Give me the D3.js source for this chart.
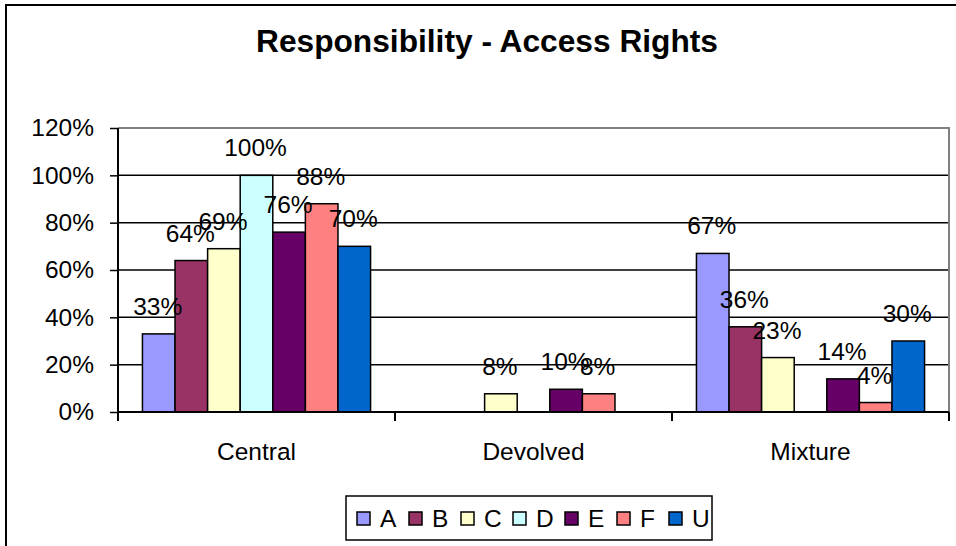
<!DOCTYPE html>
<html>
<head>
<meta charset="utf-8">
<script src="https://cdn.jsdelivr.net/npm/d3@7"></script>
<style>
  html, body { margin: 0; padding: 0; background: #fff; }
  svg { display: block; font-family: "Liberation Sans", Arial, sans-serif; }
</style>
</head>
<body>
<svg id="chart" width="956" height="546"></svg>
<script>
const categories = ["Central", "Devolved", "Mixture"];
const seriesNames = ["A", "B", "C", "D", "E", "F", "U"];
const seriesColors = ["#9999FF", "#993366", "#FFFFCC", "#CCFFFF", "#660066", "#FF8080", "#0066CC"];
const valuesA = [0.33, 0, 0.67];
const valuesB = [0.64, 0, 0.36];
const valuesC = [0.69, 0.077, 0.23];
const valuesD = [1.00, 0, 0];
const valuesE = [0.76, 0.096, 0.14];
const valuesF = [0.88, 0.077, 0.04];
const valuesU = [0.70, 0, 0.30];
const yTicks = [0, 0.2, 0.4, 0.6, 0.8, 1.0, 1.2];
const title = "Responsibility - Access Rights";

const seriesValues = [valuesA, valuesB, valuesC, valuesD, valuesE, valuesF, valuesU];

const svg = d3.select("#chart");
const pLeft = 118, pRight = 949, pTop = 128, pBottom = 412;

// outer chart border
svg.append("rect").attr("x", 6).attr("y", 5).attr("width", 975).attr("height", 570)
  .attr("fill", "#fff").attr("stroke", "#000").attr("stroke-width", 2);

svg.append("text").attr("x", 487).attr("y", 52).attr("text-anchor", "middle")
  .attr("font-size", 31.7).attr("font-weight", "bold").text(title);

const y = d3.scaleLinear().domain([0, 1.2]).range([pBottom, pTop]);
const x0 = d3.scaleBand().domain(categories).range([pLeft, pRight]).paddingInner(0).paddingOuter(0);
const step = x0.bandwidth();
const barW = step / 8.5;
const x1 = d3.scaleBand().domain(seriesNames)
  .range([0.75 * barW, 0.75 * barW + 7 * barW]).padding(0);

// gridlines
svg.append("g").selectAll("line").data(yTicks.filter(t => t > 0 && t < 1.2)).join("line")
  .attr("x1", pLeft).attr("x2", pRight)
  .attr("y1", d => y(d)).attr("y2", d => y(d))
  .attr("stroke", "#000").attr("stroke-width", 1.5);

// plot area border (grey)
svg.append("path")
  .attr("d", `M${pLeft},${y(1.2)}H${pRight}V${pBottom}`)
  .attr("fill", "none").attr("stroke", "#808080").attr("stroke-width", 2);

// bars
const groups = svg.append("g").selectAll("g").data(seriesNames).join("g")
  .attr("fill", (d, i) => seriesColors[i]);
groups.each(function(s, si) {
  d3.select(this).selectAll("rect").data(categories.map((c, ci) => ({c, v: seriesValues[si][ci]})).filter(d => d.v > 0))
    .join("rect")
    .attr("x", d => x0(d.c) + x1(s))
    .attr("y", d => y(d.v))
    .attr("width", barW)
    .attr("height", d => y(0) - y(d.v))
    .attr("stroke", "#000").attr("stroke-width", 1.5);
});

// y axis
const yAxis = d3.axisLeft(y).tickValues(yTicks).tickFormat(d3.format(".0%")).tickSize(8).tickPadding(16);
const yg = svg.append("g").attr("transform", `translate(${pLeft},0)`).call(yAxis);
yg.select(".domain").attr("stroke", "#000").attr("stroke-width", 2).attr("d", `M0,${pTop}V${pBottom}`);
yg.selectAll(".tick line").attr("stroke", "#000").attr("stroke-width", 1.5);
yg.selectAll(".tick text").attr("font-size", 24.5).attr("font-family", "Liberation Sans, Arial, sans-serif").attr("fill", "#000");

// x axis
const xTickPos = categories.map(c => x0(c)).concat([pRight]);
const xg = svg.append("g");
xg.append("line").attr("x1", pLeft).attr("x2", pRight).attr("y1", pBottom).attr("y2", pBottom)
  .attr("stroke", "#000").attr("stroke-width", 2);
xg.selectAll("line.t").data(xTickPos).join("line").attr("class", "t")
  .attr("x1", d => d).attr("x2", d => d).attr("y1", pBottom).attr("y2", pBottom + 9)
  .attr("stroke", "#000").attr("stroke-width", 2);
xg.selectAll("text").data(categories).join("text")
  .attr("x", d => x0(d) + step / 2).attr("y", 460)
  .attr("text-anchor", "middle").attr("font-size", 24.5).text(d => d);

// data labels
const fmt = d3.format(".0%");
seriesNames.forEach((s, si) => {
  svg.append("g").selectAll("text")
    .data(categories.map((c, ci) => ({c, v: seriesValues[si][ci]})).filter(d => d.v > 0))
    .join("text")
    .attr("x", d => x0(d.c) + x1(s) + barW / 2 - 1)
    .attr("y", d => y(d.v) - 19)
    .attr("text-anchor", "middle").attr("font-size", 24.5).attr("fill", "#000")
    .text(d => fmt(d.v));
});

// legend
const lg = svg.append("g");
lg.append("rect").attr("x", 346).attr("y", 496).attr("width", 366).attr("height", 44)
  .attr("fill", "#fff").attr("stroke", "#000").attr("stroke-width", 1.5);
const items = lg.selectAll("g").data(seriesNames).join("g")
  .attr("transform", (d, i) => `translate(${357 + i * 52},0)`);
items.append("rect").attr("x", 0).attr("y", 512).attr("width", 13).attr("height", 13)
  .attr("fill", (d, i) => seriesColors[i]).attr("stroke", "#000").attr("stroke-width", 1.5);
items.append("text").attr("x", 23).attr("y", 527).attr("font-size", 24.5).text(d => d);
</script>
</body>
</html>
